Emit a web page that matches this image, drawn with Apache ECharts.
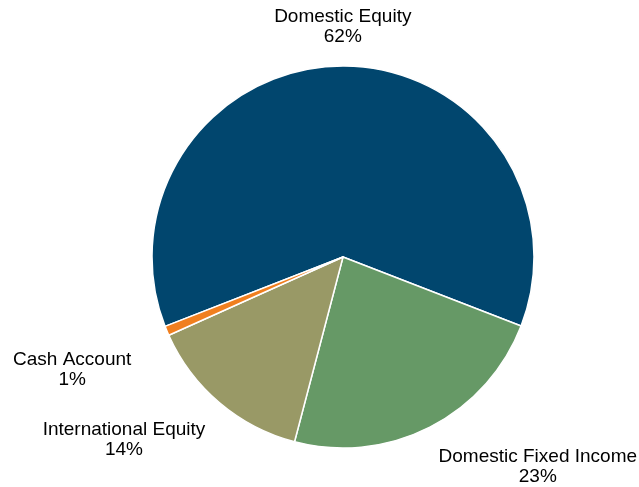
<!DOCTYPE html>
<html>
<head>
<meta charset="utf-8">
<script src="https://cdn.jsdelivr.net/npm/echarts@6/dist/echarts.min.js"></script>
<style>
html,body{margin:0;padding:0;background:#fff;}
#chart{width:639px;height:487px;}
</style>
</head>
<body>
<div id="chart"></div>
<script>
const categories = ['Domestic Equity', 'Domestic Fixed Income', 'International Equity', 'Cash Account'];
const values = [61.8, 23.2, 14.2, 0.8];
const colors = ['#01466e', '#669966', '#999966', '#f07f1f'];

const labelAlign = ['center', 'left', 'right', 'right'];
const labelVAlign = ['bottom', 'top', 'top', 'top'];
const labelShift = [[0, 0], [0, 3], [-2, 3], [-18, 12]];

const chart = echarts.init(document.getElementById('chart'), null, {renderer: 'canvas'});
chart.setOption({
  animation: false,
  backgroundColor: '#fff',
  series: [{
    type: 'pie',
    center: [343, 257],
    radius: 191,
    startAngle: 201.3,
    clockwise: true,
    avoidLabelOverlap: false,
    itemStyle: {borderColor: '#fff', borderWidth: 1.5},
    label: {
      show: true,
      position: 'outside',
      distanceToLabelLine: 0,
      color: '#000',
      fontFamily: 'Liberation Sans, Arial, sans-serif',
      fontSize: 19,
      lineHeight: 20,
      formatter: p => '{t|' + p.name + '}\n{t|' + Math.round(p.percent) + '%}',
      rich: {
        t: {
          align: 'center',
          color: '#000',
          fontFamily: 'Liberation Sans, Arial, sans-serif',
          fontSize: 19,
          lineHeight: 20
        }
      }
    },
    labelLine: {show: false, length: 19, length2: 0},
    labelLayout: p => ({
      align: labelAlign[p.dataIndex],
      verticalAlign: labelVAlign[p.dataIndex],
      dx: labelShift[p.dataIndex][0],
      dy: labelShift[p.dataIndex][1]
    }),
    data: categories.map((c, i) => ({name: c, value: values[i], itemStyle: {color: colors[i]}}))
  }]
});
</script>
</body>
</html>
